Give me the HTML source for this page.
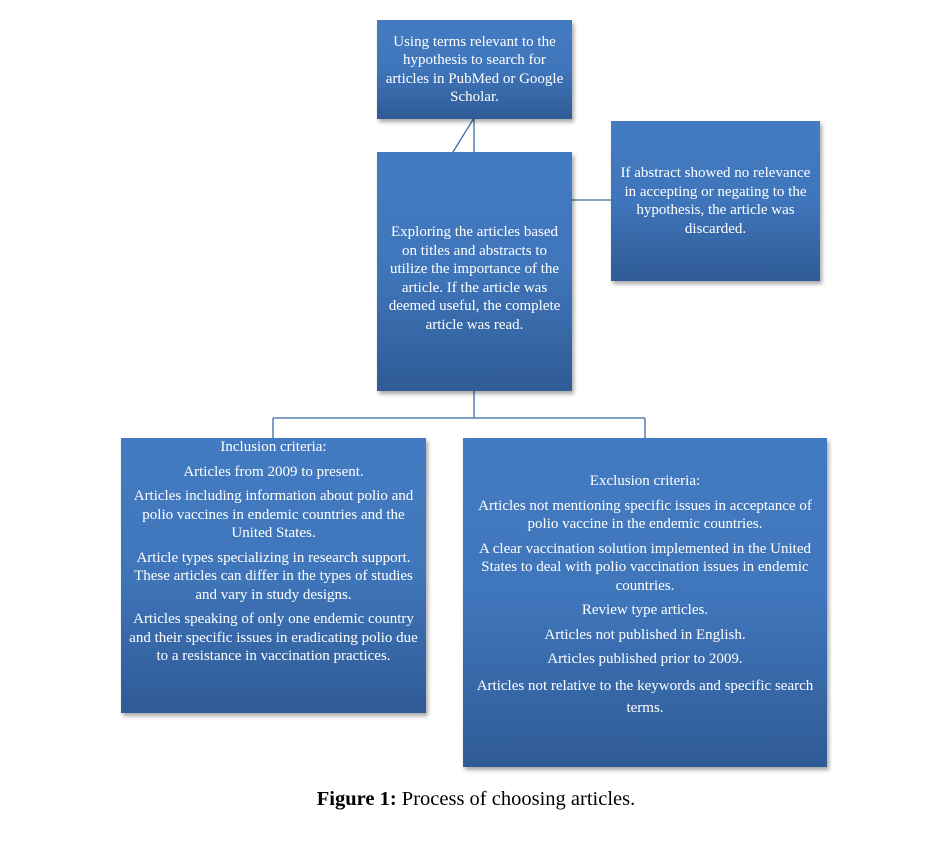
<!DOCTYPE html>
<html><head><style>
body{margin:0;width:952px;height:854px;background:#fff;position:relative;overflow:hidden;font-family:"Liberation Serif",serif;}
.b{position:absolute;box-sizing:border-box;background:linear-gradient(#437bc2 0%,#3f75ba 50%,#2f5b96 100%);color:#fff;text-align:center;font-size:15px;line-height:18.5px;display:flex;flex-direction:column;justify-content:center;box-shadow:2px 3px 4px rgba(0,0,0,0.35);padding:0 2px;}
.b p{margin:0 0 6px 0;}
.cap{position:absolute;top:788px;left:0;width:952px;text-align:center;font-size:20.5px;}
</style></head><body>
<svg width="952" height="854" style="position:absolute;left:0;top:0">
<g stroke="#3a6aa8" stroke-width="1.3" fill="none">
<line x1="474" y1="118" x2="474" y2="152"/>
<line x1="474" y1="118" x2="453" y2="152"/>
<line x1="572" y1="200" x2="611" y2="200"/>
<line x1="474" y1="391" x2="474" y2="418"/>
<line x1="273" y1="418" x2="645" y2="418"/>
<line x1="273" y1="418" x2="273" y2="438"/>
<line x1="645" y1="418" x2="645" y2="438"/>
</g></svg>
<div class="b" style="left:377px;top:20px;width:195px;height:99px;padding:0 6px;">Using terms relevant to the hypothesis to search for articles in PubMed or Google Scholar.</div>
<div class="b" style="left:377px;top:152px;width:195px;height:239px;padding:14px 9px 0;">Exploring the articles based on titles and abstracts to utilize the importance of the article. If the article was deemed useful, the complete article was read.</div>
<div class="b" style="left:611px;top:121px;width:209px;height:160px;padding:0 2px;">If abstract showed no relevance in accepting or negating to the hypothesis, the article was discarded.</div>
<div class="b" style="left:121px;top:438px;width:305px;height:275px;justify-content:flex-start;padding:0 8px;">
<p>Inclusion criteria:</p><p>Articles from 2009 to present.</p><p>Articles including information about polio and polio vaccines in endemic countries and the United States.</p><p>Article types specializing in research support. These articles can differ in the types of studies and vary in study designs.</p><p>Articles speaking of only one endemic country and their specific issues in eradicating polio due to a resistance in vaccination practices.</p></div>
<div class="b" style="left:463px;top:438px;width:364px;height:329px;justify-content:flex-start;padding-top:34px;">
<p>Exclusion criteria:</p><p>Articles not mentioning specific issues in acceptance of polio vaccine in the endemic countries.</p><p>A clear vaccination solution implemented in the United States to deal with polio vaccination issues in endemic countries.</p><p>Review type articles.</p><p>Articles not published in English.</p><p>Articles published prior to 2009.</p><p style="line-height:22px">Articles not relative to the keywords and specific search terms.</p></div>
<div class="cap"><b>Figure 1:</b> Process of choosing articles.</div>
</body></html>
